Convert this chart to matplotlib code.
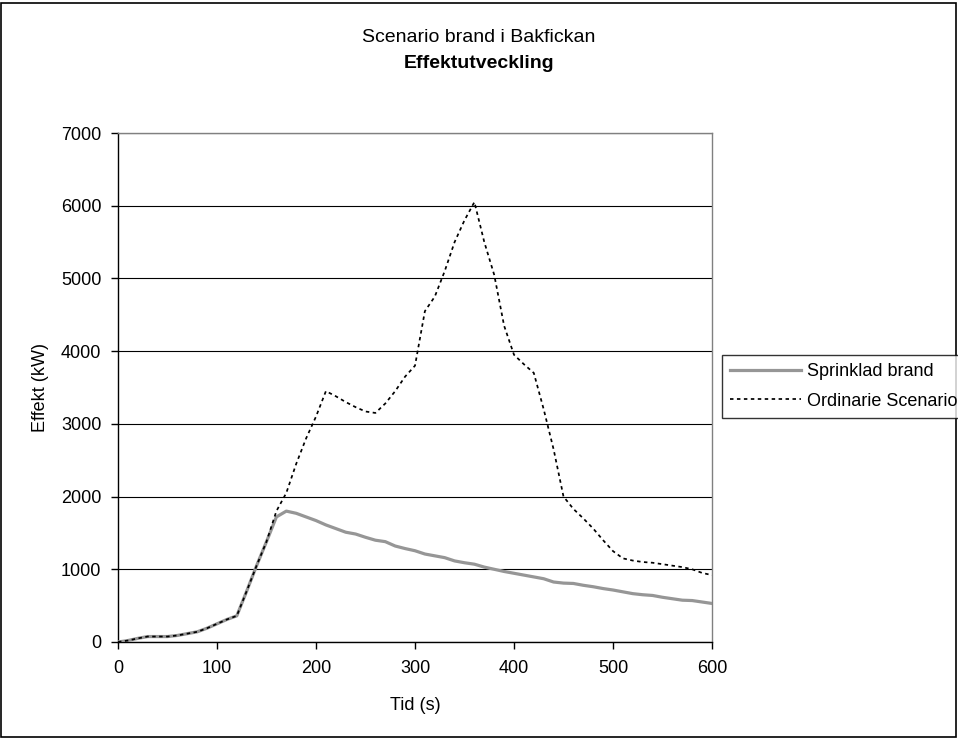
import matplotlib
matplotlib.use("Agg")
import matplotlib.pyplot as plt
from matplotlib.patches import Rectangle

plt.rcParams['font.family'] = ['Liberation Sans', 'DejaVu Sans']

time_s = list(range(0, 610, 10))
sprinklad = [0, 20, 50, 75, 75, 75, 90, 115, 140, 190, 250, 310, 360, 700, 1050, 1380, 1720,
             1800, 1770, 1720, 1670, 1610, 1560, 1510, 1485, 1440, 1400, 1380, 1320, 1285, 1255,
             1210, 1185, 1160, 1115, 1090, 1070, 1030, 1000, 970, 945, 920, 895, 870, 825, 810,
             805, 780, 760, 735, 715, 690, 665, 650, 640, 615, 595, 575, 570, 550, 530]
ordinarie = [0, 20, 50, 75, 75, 75, 90, 115, 140, 190, 250, 310, 360, 700, 1050, 1380, 1800,
             2050, 2450, 2800, 3100, 3450, 3380, 3300, 3230, 3170, 3150, 3280, 3450, 3650, 3800,
             4550, 4750, 5100, 5500, 5800, 6050, 5500, 5050, 4350, 3950, 3820, 3700, 3200, 2650,
             2000, 1830, 1700, 1560, 1400, 1250, 1150, 1120, 1100, 1090, 1070, 1050, 1030, 1000,
             950, 920]

title1 = "Scenario brand i Bakfickan"
title2 = "Effektutveckling"
xlabel = "Tid (s)"
ylabel = "Effekt (kW)"
xticks = [0, 100, 200, 300, 400, 500, 600]
yticks = [0, 1000, 2000, 3000, 4000, 5000, 6000, 7000]

W, H = 958, 738
fig = plt.figure(figsize=(W/100, H/100), dpi=100)
ax = fig.add_axes([118/W, 1 - 642/H, (712-118)/W, (642-133)/H])

ax.plot(time_s, sprinklad, color='#969696', lw=2.3, label='Sprinklad brand', zorder=3)
ax.plot(time_s, ordinarie, color='black', lw=1.25, ls=(0, (2.0, 2.0)), label='Ordinarie Scenario', zorder=4)

ax.set_xlim(0, 600)
ax.set_ylim(0, 7000)
ax.set_xticks(xticks)
ax.set_yticks(yticks)
ax.tick_params(axis='both', direction='out', length=5, width=1, labelsize=13, color='black')
ax.tick_params(axis='x', pad=8)
ax.tick_params(axis='y', pad=7)
ax.yaxis.grid(True, color='black', lw=0.8)
ax.set_axisbelow(True)
for s in ax.spines.values():
    s.set_color('black')
    s.set_linewidth(1)
ax.spines['top'].set_color('#808080')
ax.spines['right'].set_color('#808080')

ax.set_xlabel(xlabel, fontsize=13, labelpad=14)
ax.set_ylabel(ylabel, fontsize=13)
ax.yaxis.set_label_coords((49-118)/(712-118), 0.5)

fig.text(479/W, 1 - 37/H, title1, ha='center', va='center', fontsize=14)
fig.text(479/W, 1 - 64/H, title2, ha='center', va='center', fontsize=14, fontweight='bold')

leg = fig.legend(loc='upper left', bbox_to_anchor=(722/W, 1 - 355/H), fontsize=13,
                 frameon=True, fancybox=False, handlelength=3.9, handletextpad=0.35,
                 borderpad=0.45, labelspacing=0.7, borderaxespad=0)
leg.get_frame().set_edgecolor('black')
leg.get_frame().set_linewidth(1)

fig.patches.append(Rectangle((1/W, 1/H), (W-3)/W, (H-4)/H, transform=fig.transFigure,
                             fill=False, edgecolor='black', lw=1.2))

fig.savefig('out.png', dpi=100)
